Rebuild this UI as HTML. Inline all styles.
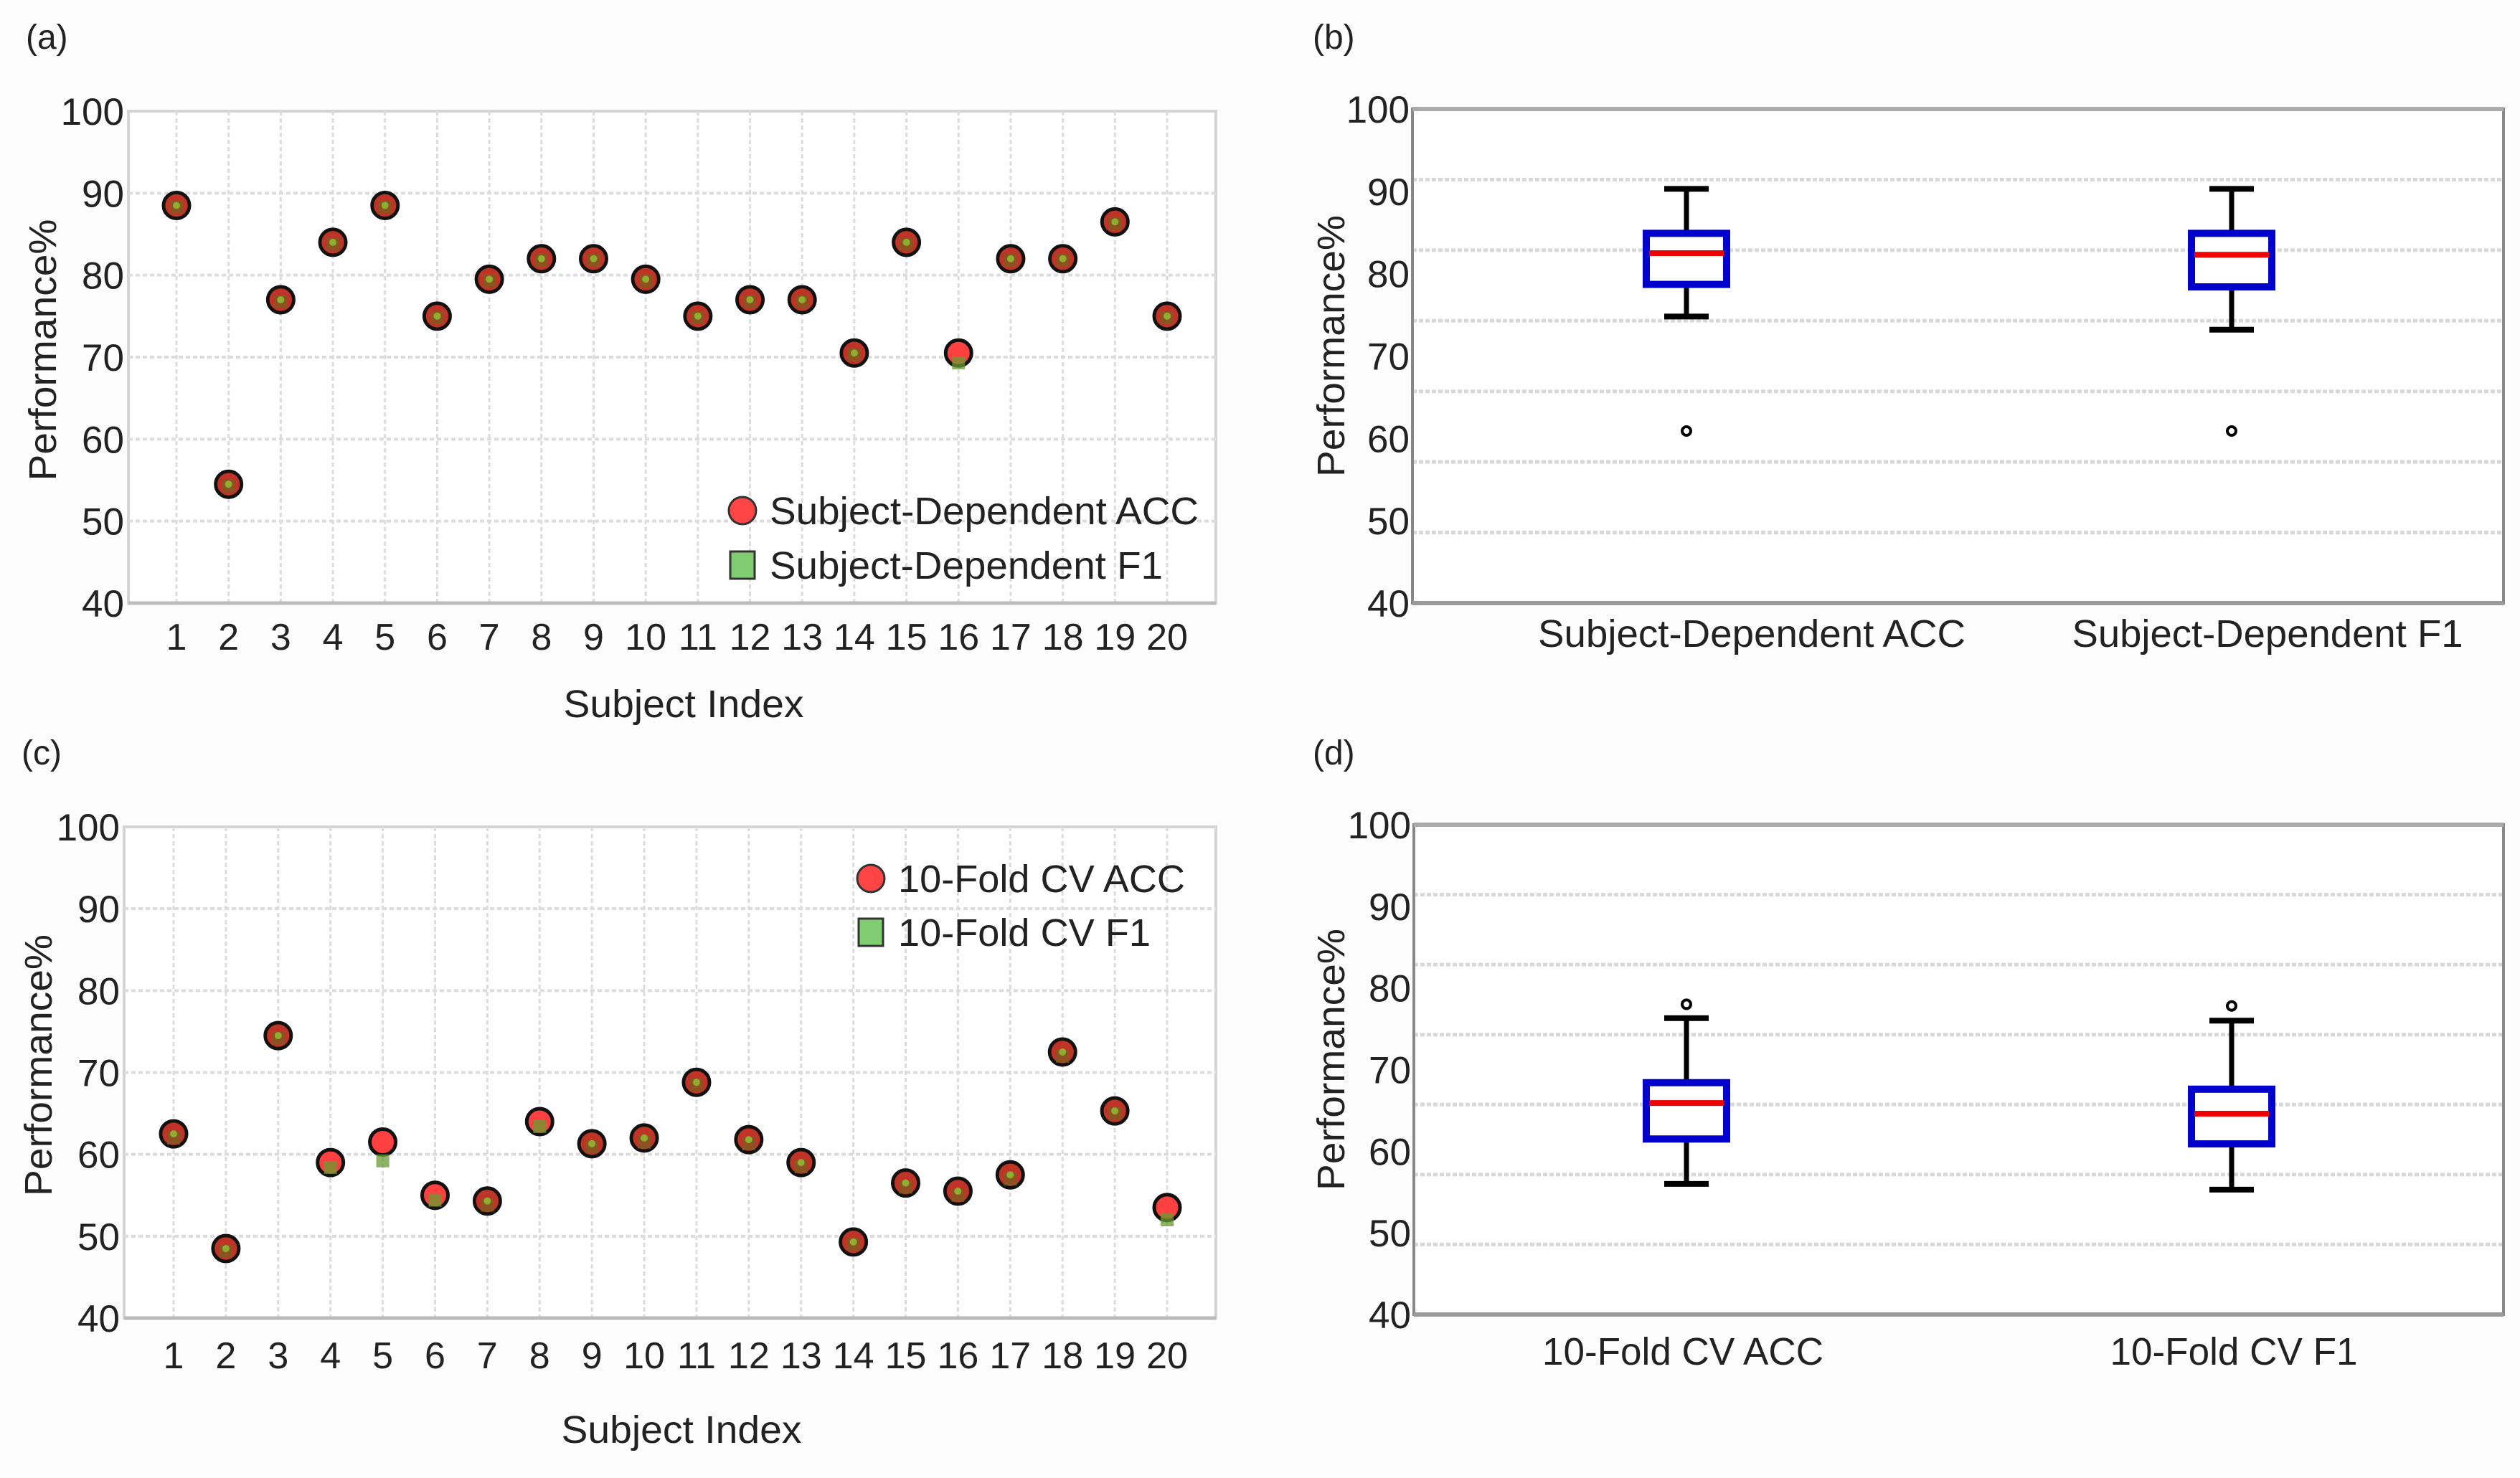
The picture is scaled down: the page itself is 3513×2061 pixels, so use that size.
<!DOCTYPE html>
<html><head><meta charset="utf-8"><style>
html,body{margin:0;padding:0;background:#fdfdfd;}
svg{display:block;font-family:"Liberation Sans",Arial,sans-serif;}
</style></head><body>
<svg id="chart" width="3513" height="2061" viewBox="0 0 3513 2061" xmlns="http://www.w3.org/2000/svg">
<rect x="0" y="0" width="3513" height="2061" fill="#fdfdfd"/>
</svg>
<script>
const subjects=[1,2,3,4,5,6,7,8,9,10,11,12,13,14,15,16,17,18,19,20];
const yTicks=[40,50,60,70,80,90,100];
const sdAcc=[88.5,54.5,77,84,88.5,75,79.5,82,82,79.5,75,77,77,70.5,84,70.5,82,82,86.5,75];
const sdF1=[88.3,54.3,76.8,83.8,88.3,74.8,79.3,81.8,81.8,79.3,74.8,76.8,76.8,70.3,83.8,69.3,81.8,81.8,86.3,74.8];
const cvAcc=[62.5,48.5,74.5,59,61.5,55,54.3,64,61.3,62,68.8,61.8,59,49.3,56.5,55.5,57.5,72.5,65.3,53.5];
const cvF1=[62,48.2,74.2,58.4,59.2,54.4,53.8,63.4,60.9,61.5,68.5,61.3,58.5,49,56,55,57,72,65,52];
const boxCatsB=["Subject-Dependent ACC","Subject-Dependent F1"];
const boxStatsB=[[74.8,78.7,82.5,84.9,90.3],[73.2,78.4,82.3,84.9,90.3]];
const outliersB=[60.9,60.9];
const boxCatsD=["10-Fold CV ACC","10-Fold CV F1"];
const boxStatsD=[[56.0,61.5,65.9,68.4,76.3],[55.3,60.9,64.6,67.6,76.0]];
const outliersD=[78.0,77.8];

const svg=document.getElementById('chart');
const NS='http://www.w3.org/2000/svg';
function mk(tag,attrs,parent){const e=document.createElementNS(NS,tag);for(const k in attrs)e.setAttribute(k,attrs[k]);(parent||svg).appendChild(e);return e;}
function txt(s,attrs,parent){const e=mk('text',attrs,parent);e.textContent=s;return e;}
const TC='#222';

function scatterPanel(o){
  const g=mk('g',{});
  
  
  const L=o.left,R=o.right,T=o.top,B=o.bottom;
  const ys=v=>B-(v-40)/60*(B-T);
  const xs=i=>o.x1+(i-1)*(o.x20-o.x1)/19;
  mk('rect',{x:L,y:T,width:R-L,height:B-T,fill:'#ffffff',stroke:'#d4d4d4','stroke-width':4},g);
  yTicks.forEach(t=>{
    if(t>40&&t<100){const l=mk('line',{x1:L,x2:R,y1:ys(t),y2:ys(t),stroke:'#dcdcdc','stroke-width':4,'stroke-dasharray':'6 4'},g);
    
    }
    const tl=txt(String(t),{x:L-6,y:ys(t)+19,'font-size':53,'text-anchor':'end',fill:TC},g);
    
    
  });
  subjects.forEach(s=>{
    const l=mk('line',{x1:xs(s),x2:xs(s),y1:T,y2:B,stroke:'#dcdcdc','stroke-width':3,'stroke-dasharray':'6 4'},g);
    
    
    const tl=txt(String(s),{x:xs(s),y:o.tickY,'font-size':52,'text-anchor':'middle',fill:TC},g);
    
    
  });
  mk('line',{x1:L,x2:R,y1:B,y2:B,stroke:'#bbb','stroke-width':5},g);
  subjects.forEach((s,i)=>{
    const c=mk('circle',{cx:xs(s),cy:ys(o.acc[i]),r:18,fill:'#ff4040',stroke:'#111','stroke-width':5},g);
    
    
  });
  subjects.forEach((s,i)=>{
    const y=ys(o.f1[i]);
    const r=mk('rect',{x:xs(s)-9,y:y-9,width:18,height:18,fill:'#6a9a30','fill-opacity':0.75},g);
    
    
  });
  subjects.forEach((s,i)=>{
    if(Math.abs(o.acc[i]-o.f1[i])<0.6){
      const c=mk('circle',{cx:xs(s),cy:ys(o.acc[i]),r:16,fill:'#8a2a12','fill-opacity':0.55},g);
      
      
      const d=mk('circle',{cx:xs(s),cy:ys(o.acc[i]),r:5,fill:'#8fae30'},g);
      
      
    }
  });
  const ya=txt('Performance%',{x:0,y:0,'font-size':54,'text-anchor':'middle',fill:TC,transform:`translate(${o.yTitleX},${(T+B)/2-10}) rotate(-90)`,textLength:365,lengthAdjust:'spacingAndGlyphs'},g);
  
  
  const xa=txt('Subject Index',{x:(L+R)/2+16,y:o.xTitleY,'font-size':54,'text-anchor':'middle',fill:TC,textLength:335,lengthAdjust:'spacingAndGlyphs'},g);
  
  
  const pl=txt(o.label,{x:o.labelX,y:o.labelY,'font-size':48,fill:TC},g);
  
  
  const lg=mk('g',{},g);
  
  
  const lc=mk('circle',{cx:o.legX,cy:o.legY1,r:19,fill:'#ff4545',stroke:'#333','stroke-width':3},lg);
  
  
  const lt1=txt(o.legText[0],{x:o.legX+38,y:o.legY1+19,'font-size':54,fill:TC,textLength:o.legW[0],lengthAdjust:'spacingAndGlyphs'},lg);
  
  
  const ls=mk('rect',{x:o.legX-17,y:o.legY2-19,width:34,height:38,fill:'#80cc70',stroke:'#333','stroke-width':3},lg);
  
  
  const lt2=txt(o.legText[1],{x:o.legX+38,y:o.legY2+19,'font-size':54,fill:TC,textLength:o.legW[1],lengthAdjust:'spacingAndGlyphs'},lg);
  
  
}

function boxPanel(o){
  const g=mk('g',{});
  
  
  const L=o.left,R=o.right,T=o.top,B=o.bottom;
  const ys=v=>B-(v-40)/60*(B-T);
  mk('rect',{x:L,y:T,width:R-L,height:B-T,fill:'#ffffff'},g);
  for(let k=1;k<7;k++){
    const y=T+k*(B-T)/7;
    const l=mk('line',{x1:L,x2:R,y1:y,y2:y,stroke:'#d8d8d8','stroke-width':5,'stroke-dasharray':'6 3'},g);
    
    
  }
  mk('rect',{x:L,y:T,width:R-L,height:B-T,fill:'none',stroke:'#888','stroke-width':4},g);
  mk('line',{x1:L,x2:R,y1:T,y2:T,stroke:'#aaa','stroke-width':6},g);
  mk('line',{x1:L,x2:R,y1:B,y2:B,stroke:'#999','stroke-width':6},g);
  yTicks.forEach(t=>{
    const tl=txt(String(t),{x:L-4,y:ys(t)+19,'font-size':53,'text-anchor':'end',fill:TC},g);
    
    
  });
  o.cats.forEach((c,i)=>{
    const cx=o.centers[i],s=o.stats[i];
    const bg=mk('g',{},g);
    
    
    mk('line',{x1:cx,x2:cx,y1:ys(s[4]),y2:ys(s[3]),stroke:'#000','stroke-width':7},bg);
    mk('line',{x1:cx,x2:cx,y1:ys(s[1]),y2:ys(s[0]),stroke:'#000','stroke-width':7},bg);
    mk('line',{x1:cx-31,x2:cx+31,y1:ys(s[4]),y2:ys(s[4]),stroke:'#000','stroke-width':8},bg);
    mk('line',{x1:cx-31,x2:cx+31,y1:ys(s[0]),y2:ys(s[0]),stroke:'#000','stroke-width':8},bg);
    mk('rect',{x:cx-56,y:ys(s[3]),width:112,height:ys(s[1])-ys(s[3]),fill:'#fff',stroke:'#0000cc','stroke-width':10},bg);
    mk('line',{x1:cx-52,x2:cx+52,y1:ys(s[2]),y2:ys(s[2]),stroke:'#ee0000','stroke-width':8},bg);
    const oc=mk('circle',{cx:cx,cy:ys(o.outliers[i]),r:6,fill:'#fff',stroke:'#000','stroke-width':4},bg);
    
    
    const xl=txt(c,{x:o.labelCenters[i],y:o.tickY,'font-size':54,'text-anchor':'middle',fill:TC,textLength:o.labelW[i],lengthAdjust:'spacingAndGlyphs'},g);
    
    
  });
  const ya=txt('Performance%',{x:0,y:0,'font-size':54,'text-anchor':'middle',fill:TC,transform:`translate(${o.yTitleX},${(T+B)/2-14}) rotate(-90)`,textLength:365,lengthAdjust:'spacingAndGlyphs'},g);
  
  
  const pl=txt(o.label,{x:o.labelX,y:o.labelY,'font-size':48,fill:TC},g);
  
  
}

scatterPanel({name:'panel-a-scatter',left:179,right:1695,top:155,bottom:841,x1:246,x20:1627,tickY:906,xTitleY:1000,yTitleX:78,
  acc:sdAcc,f1:sdF1,label:'(a)',labelX:36,labelY:68,legX:1035,legY1:712,legY2:788,
  legText:['Subject-Dependent ACC','Subject-Dependent F1'],legW:[598,548]});
scatterPanel({name:'panel-c-scatter',left:173,right:1695,top:1153,bottom:1838,x1:242,x20:1627,tickY:1908,xTitleY:2012,yTitleX:72,
  acc:cvAcc,f1:cvF1,label:'(c)',labelX:30,labelY:1066,legX:1214,legY1:1225,legY2:1300,
  legText:['10-Fold CV ACC','10-Fold CV F1'],legW:[400,352]});
boxPanel({name:'panel-b-boxplot',left:1969,right:3490,top:152,bottom:841,cats:boxCatsB,stats:boxStatsB,outliers:outliersB,
  centers:[2351,3111],labelCenters:[2442,3161],labelW:[596,545],tickY:902,yTitleX:1874,label:'(b)',labelX:1830,labelY:68});
boxPanel({name:'panel-d-boxplot',left:1971,right:3490,top:1150,bottom:1833,cats:boxCatsD,stats:boxStatsD,outliers:outliersD,
  centers:[2351,3111],labelCenters:[2346,3114],labelW:[392,345],tickY:1903,yTitleX:1874,label:'(d)',labelX:1830,labelY:1066});
</script>
</body></html>
